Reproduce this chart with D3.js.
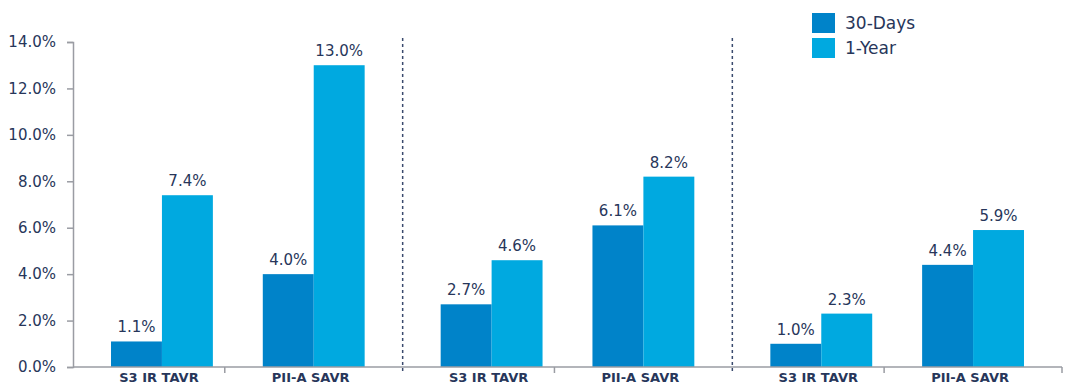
<!DOCTYPE html>
<html>
<head>
<meta charset="utf-8">
<script src="https://cdn.jsdelivr.net/npm/d3@7"></script>
<style>
  body { margin: 0; background: #fff; }
  svg { display: block; }
  text { font-family: "DejaVu Sans", Verdana, sans-serif; fill: #27365a; }
</style>
</head>
<body>
<div id="chart"></div>
<script>
const groups = ["G1", "G2", "G3"];
const categories = ["S3 IR TAVR", "PII-A SAVR"];
const seriesNames = ["30-Days", "1-Year"];
const days30 = [1.1, 4.0, 2.7, 6.1, 1.0, 4.4];
const year1 = [7.4, 13.0, 4.6, 8.2, 2.3, 5.9];
const yTicks = [0, 2, 4, 6, 8, 10, 12, 14];
const colors = ["#0083c9", "#00a9e0"];

const W = 1069, H = 387;
const margin = { left: 73, right: 8, top: 42, bottom: 20 };
const svg = d3.select("#chart").append("svg").attr("width", W).attr("height", H);

const x0 = d3.scaleBand().domain(groups).range([margin.left, 1062]).padding(0);
const x1 = d3.scaleBand().domain(categories).range([0, x0.bandwidth()]).paddingInner(0).paddingOuter(0.086);
const x2 = d3.scaleBand().domain(seriesNames).range([0, x1.bandwidth()]).paddingOuter(0.49).paddingInner(0);
const y = d3.scaleLinear().domain([0, 14]).range([367, 42]);

const rows = [];
groups.forEach((g, gi) => categories.forEach((c, ci) => {
  const i = gi * 2 + ci;
  rows.push({ g, c, vals: [days30[i], year1[i]] });
}));

// y axis
const yAxis = d3.axisLeft(y).tickValues(yTicks).tickFormat(d => d.toFixed(1) + "%").tickSizeOuter(0).tickSize(6);
const ya = svg.append("g").attr("transform", `translate(${margin.left},0)`).call(yAxis);
ya.select(".domain").attr("stroke", "#9a9ca3").attr("stroke-width", 1.5);
ya.selectAll(".tick line").attr("stroke", "#9a9ca3").attr("stroke-width", 1.5);
ya.selectAll(".tick text").attr("x", -17).style("font-size", "15px").style("font-family", "DejaVu Sans").attr("fill", "#27365a");

// dotted separators
groups.slice(1).forEach(g => {
  svg.append("line")
    .attr("x1", x0(g)).attr("x2", x0(g))
    .attr("y1", 38).attr("y2", 373)
    .attr("stroke", "#3a4a6e").attr("stroke-width", 1.5)
    .attr("stroke-dasharray", "3,3");
});

// bars
const gSel = svg.append("g").selectAll("g.cat").data(rows).join("g")
  .attr("transform", d => `translate(${x0(d.g) + x1(d.c)},0)`);
gSel.selectAll("rect").data(d => d.vals.map((v, k) => ({ v, k }))).join("rect")
  .attr("x", d => x2(seriesNames[d.k]))
  .attr("width", x2.bandwidth())
  .attr("y", d => y(d.v))
  .attr("height", d => y(0) - y(d.v))
  .attr("fill", d => colors[d.k]);
gSel.selectAll("text.val").data(d => d.vals.map((v, k) => ({ v, k }))).join("text")
  .attr("class", "val")
  .attr("x", d => x2(seriesNames[d.k]) + x2.bandwidth() / 2)
  .attr("y", d => y(d.v) - 9)
  .attr("text-anchor", "middle")
  .style("font-size", "15px")
  .text(d => d.v.toFixed(1) + "%");

// x axis line
svg.append("line").attr("x1", margin.left).attr("x2", 1062).attr("y1", y(0)).attr("y2", y(0))
  .attr("stroke", "#9a9ca3").attr("stroke-width", 1.5);
const bounds = [];
groups.forEach(g => { bounds.push(x0(g) + x1.step()); });
bounds.push(1062);
bounds.forEach(b => {
  svg.append("line").attr("x1", b).attr("x2", b).attr("y1", y(0)).attr("y2", y(0) + 6)
    .attr("stroke", "#9a9ca3").attr("stroke-width", 1.5);
});
// category labels
gSel.append("text")
  .attr("x", x1.bandwidth() / 2 - 3)
  .attr("y", 382)
  .attr("text-anchor", "middle")
  .style("font-size", "13px")
  .style("font-weight", "bold")
  .text(d => d.c);

// legend
const leg = svg.append("g").attr("transform", "translate(812,13)");
seriesNames.forEach((s, i) => {
  const r = leg.append("g").attr("transform", `translate(0,${i * 25})`);
  r.append("rect").attr("width", 23).attr("height", 20).attr("fill", colors[i]);
  r.append("text").attr("x", 33).attr("y", 16).style("font-size", "17px").text(s);
});
</script>
</body>
</html>
